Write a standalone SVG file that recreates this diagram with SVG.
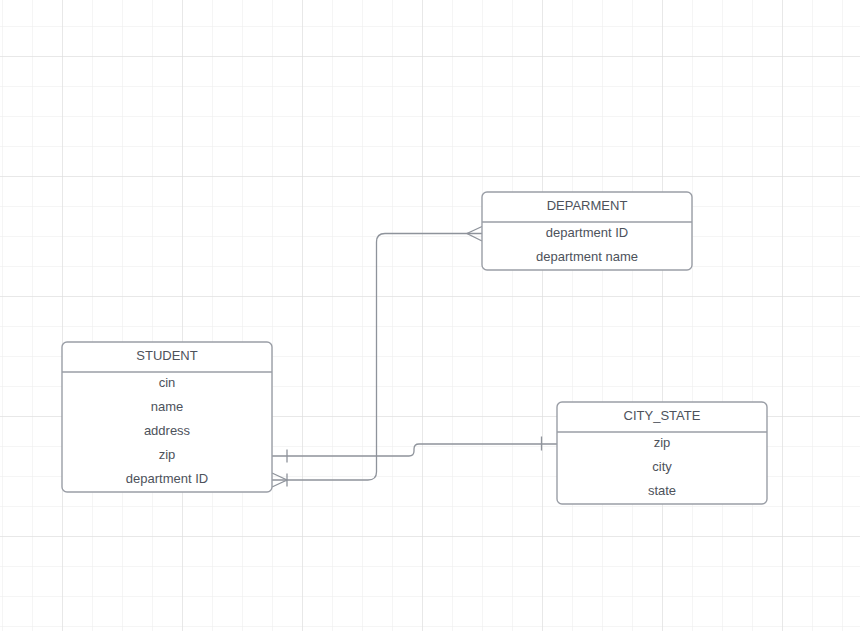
<svg xmlns="http://www.w3.org/2000/svg" width="860" height="631" viewBox="0 0 860 631">
<defs>
<pattern id="minor" x="2" y="26" width="30" height="30" patternUnits="userSpaceOnUse">
<path d="M0 0H30M0 0V30" fill="none" stroke="#ececec" stroke-width="1"/>
</pattern>
<pattern id="major" x="62" y="56" width="120" height="120" patternUnits="userSpaceOnUse">
<path d="M0 0H120M0 0V120" fill="none" stroke="#dcdcdc" stroke-width="1"/>
</pattern>
</defs>
<style>
.box{fill:#ffffff;stroke:#9a9ea6;stroke-width:1.4}
.div{stroke:#9a9ea6;stroke-width:1.4}
.t{font-family:"Liberation Sans",Arial,sans-serif;font-size:13px;fill:#4d525b;text-anchor:middle;dominant-baseline:central}
.c{fill:none;stroke:#8e939b;stroke-width:1.3}
</style>
<rect width="860" height="631" fill="#ffffff"/>
<rect width="860" height="631" fill="url(#minor)"/>
<rect width="860" height="631" fill="url(#major)"/>
<g id="connectors">
<path class="c" d="M272 480H368Q376.5 480 376.5 472V242Q376.5 233.5 385 233.5H482"/>
<path class="c" d="M482 226.5L467 233.5L482 241"/>
<path class="c" d="M272 473L287 480L272 487M287 473.5V486.5"/>
<path class="c" d="M272 456H409Q414 456 414 451V449Q414 444 419 444H557"/>
<path class="c" d="M287 449.5V462.5M541.5 436.5V450.5"/>
</g>
<g id="DEPARMENT">
<rect class="box" x="482" y="192" width="210" height="78" rx="5"/>
<line class="div" x1="482" y1="222" x2="692" y2="222"/>
<text class="t" x="587" y="205">DEPARMENT</text>
<text class="t" x="587" y="232">department ID</text>
<text class="t" x="587" y="256.5">department name</text>
</g>
<g id="STUDENT">
<rect class="box" x="62" y="342" width="210" height="150" rx="5"/>
<line class="div" x1="62" y1="372" x2="272" y2="372"/>
<text class="t" x="167" y="355">STUDENT</text>
<text class="t" x="167" y="382">cin</text>
<text class="t" x="167" y="406.5">name</text>
<text class="t" x="167" y="430">address</text>
<text class="t" x="167" y="454.5">zip</text>
<text class="t" x="167" y="478">department ID</text>
</g>
<g id="CITY_STATE">
<rect class="box" x="557" y="402" width="210" height="102" rx="5"/>
<line class="div" x1="557" y1="432" x2="767" y2="432"/>
<text class="t" x="662" y="415">CITY_STATE</text>
<text class="t" x="662" y="442">zip</text>
<text class="t" x="662" y="466.5">city</text>
<text class="t" x="662" y="490.5">state</text>
</g>
</svg>
